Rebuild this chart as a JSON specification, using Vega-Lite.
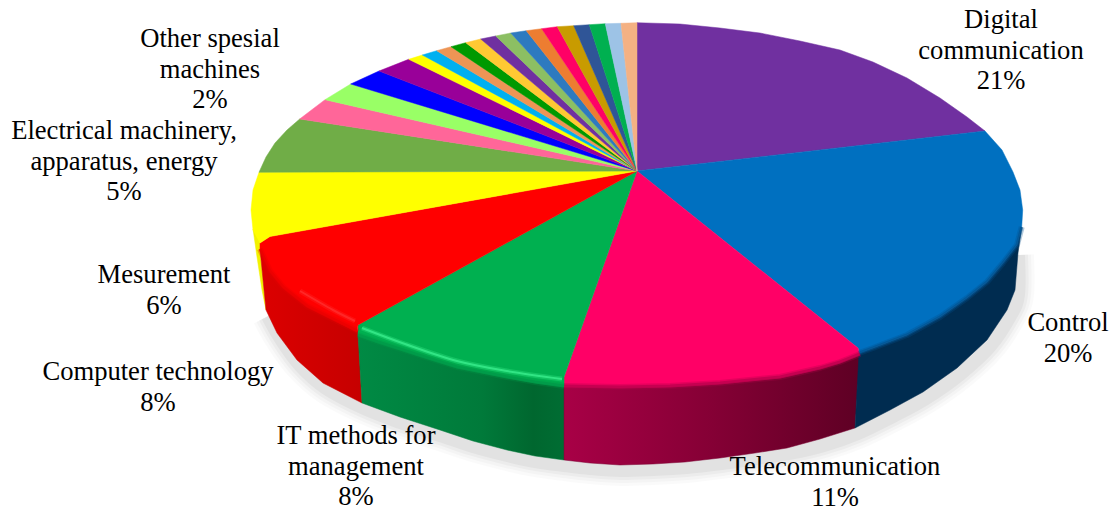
{
"$schema":"https://vega.github.io/schema/vega-lite/v6.json",
"width":1114,"height":510,"padding":0,
"autosize":{"type":"fit","contains":"padding"},
"background":"white",
"view":{"stroke":null},
"resolve":{"scale":{"stroke":"independent","fill":"independent"}},
"datasets":{
"top":[
{"slice":"Digital communication","pt":0,"x":637,"y":171},{"slice":"Digital communication","pt":1,"x":637,"y":22.7},{"slice":"Digital communication","pt":2,"x":680,"y":24},{"slice":"Digital communication","pt":3,"x":720,"y":28},{"slice":"Digital communication","pt":4,"x":760,"y":33},{"slice":"Digital communication","pt":5,"x":800,"y":41},{"slice":"Digital communication","pt":6,"x":840,"y":50},{"slice":"Digital communication","pt":7,"x":873,"y":62},{"slice":"Digital communication","pt":8,"x":907,"y":78},{"slice":"Digital communication","pt":9,"x":940,"y":98},{"slice":"Digital communication","pt":10,"x":967,"y":117},{"slice":"Digital communication","pt":11,"x":985,"y":131},
{"slice":"Control","pt":0,"x":637,"y":171},{"slice":"Control","pt":1,"x":985,"y":131},{"slice":"Control","pt":2,"x":1002,"y":150},{"slice":"Control","pt":3,"x":1013,"y":172},{"slice":"Control","pt":4,"x":1020,"y":190},{"slice":"Control","pt":5,"x":1022.7,"y":210},{"slice":"Control","pt":6,"x":1021.7,"y":227},{"slice":"Control","pt":7,"x":1017,"y":245},{"slice":"Control","pt":8,"x":1003,"y":263},{"slice":"Control","pt":9,"x":987,"y":282},{"slice":"Control","pt":10,"x":967,"y":298},{"slice":"Control","pt":11,"x":940,"y":317},{"slice":"Control","pt":12,"x":907,"y":335},{"slice":"Control","pt":13,"x":873,"y":348},{"slice":"Control","pt":14,"x":860,"y":353},{"slice":"Control","pt":15,"x":858,"y":348},
{"slice":"Telecommunication","pt":0,"x":637,"y":171},{"slice":"Telecommunication","pt":1,"x":858,"y":348},{"slice":"Telecommunication","pt":2,"x":860,"y":355},{"slice":"Telecommunication","pt":3,"x":840,"y":363},{"slice":"Telecommunication","pt":4,"x":820,"y":369},{"slice":"Telecommunication","pt":5,"x":780,"y":378},{"slice":"Telecommunication","pt":6,"x":720,"y":384},{"slice":"Telecommunication","pt":7,"x":670,"y":387},{"slice":"Telecommunication","pt":8,"x":620,"y":388},{"slice":"Telecommunication","pt":9,"x":564,"y":387},{"slice":"Telecommunication","pt":10,"x":564,"y":377},
{"slice":"IT methods for management","pt":0,"x":637,"y":171},{"slice":"IT methods for management","pt":1,"x":564,"y":377},{"slice":"IT methods for management","pt":2,"x":564,"y":387},{"slice":"IT methods for management","pt":3,"x":535,"y":383},{"slice":"IT methods for management","pt":4,"x":507,"y":378},{"slice":"IT methods for management","pt":5,"x":482,"y":373},{"slice":"IT methods for management","pt":6,"x":457,"y":368},{"slice":"IT methods for management","pt":7,"x":428,"y":359},{"slice":"IT methods for management","pt":8,"x":400,"y":350},{"slice":"IT methods for management","pt":9,"x":378,"y":343},{"slice":"IT methods for management","pt":10,"x":358,"y":336},{"slice":"IT methods for management","pt":11,"x":358,"y":325},
{"slice":"Computer technology","pt":0,"x":637,"y":171},{"slice":"Computer technology","pt":1,"x":358,"y":325},{"slice":"Computer technology","pt":2,"x":357,"y":332},{"slice":"Computer technology","pt":3,"x":333,"y":320},{"slice":"Computer technology","pt":4,"x":307,"y":307},{"slice":"Computer technology","pt":5,"x":283,"y":288},{"slice":"Computer technology","pt":6,"x":270,"y":272},{"slice":"Computer technology","pt":7,"x":260,"y":250},{"slice":"Computer technology","pt":8,"x":260,"y":243},{"slice":"Computer technology","pt":9,"x":270,"y":236.5},
{"slice":"Mesurement","pt":0,"x":637,"y":171},{"slice":"Mesurement","pt":1,"x":270,"y":236.5},{"slice":"Mesurement","pt":2,"x":260,"y":243},{"slice":"Mesurement","pt":3,"x":253,"y":230},{"slice":"Mesurement","pt":4,"x":251,"y":210},{"slice":"Mesurement","pt":5,"x":253,"y":190},{"slice":"Mesurement","pt":6,"x":259,"y":172.3},
{"slice":"Electrical machinery, apparatus, energy","pt":0,"x":637,"y":171},{"slice":"Electrical machinery, apparatus, energy","pt":1,"x":259,"y":172.3},{"slice":"Electrical machinery, apparatus, energy","pt":2,"x":266,"y":157},{"slice":"Electrical machinery, apparatus, energy","pt":3,"x":275,"y":143},{"slice":"Electrical machinery, apparatus, energy","pt":4,"x":287,"y":130},{"slice":"Electrical machinery, apparatus, energy","pt":5,"x":299.7,"y":119},
{"slice":"Other spesial machines","pt":0,"x":637,"y":171},{"slice":"Other spesial machines","pt":1,"x":299.7,"y":119},{"slice":"Other spesial machines","pt":2,"x":325,"y":99.7},
{"slice":"Field 09","pt":0,"x":637,"y":171},{"slice":"Field 09","pt":1,"x":325,"y":99.7},{"slice":"Field 09","pt":2,"x":350.7,"y":84},
{"slice":"Field 10","pt":0,"x":637,"y":171},{"slice":"Field 10","pt":1,"x":350.7,"y":84},{"slice":"Field 10","pt":2,"x":379,"y":71},
{"slice":"Field 11","pt":0,"x":637,"y":171},{"slice":"Field 11","pt":1,"x":379,"y":71},{"slice":"Field 11","pt":2,"x":408.7,"y":59.3},
{"slice":"Field 12","pt":0,"x":637,"y":171},{"slice":"Field 12","pt":1,"x":408.7,"y":59.3},{"slice":"Field 12","pt":2,"x":422.3,"y":55},
{"slice":"Field 13","pt":0,"x":637,"y":171},{"slice":"Field 13","pt":1,"x":422.3,"y":55},{"slice":"Field 13","pt":2,"x":436.7,"y":50.7},
{"slice":"Field 14","pt":0,"x":637,"y":171},{"slice":"Field 14","pt":1,"x":436.7,"y":50.7},{"slice":"Field 14","pt":2,"x":451,"y":46.7},
{"slice":"Field 15","pt":0,"x":637,"y":171},{"slice":"Field 15","pt":1,"x":451,"y":46.7},{"slice":"Field 15","pt":2,"x":465.7,"y":42.7},
{"slice":"Field 16","pt":0,"x":637,"y":171},{"slice":"Field 16","pt":1,"x":465.7,"y":42.7},{"slice":"Field 16","pt":2,"x":480.7,"y":39},
{"slice":"Field 17","pt":0,"x":637,"y":171},{"slice":"Field 17","pt":1,"x":480.7,"y":39},{"slice":"Field 17","pt":2,"x":495.7,"y":36},
{"slice":"Field 18","pt":0,"x":637,"y":171},{"slice":"Field 18","pt":1,"x":495.7,"y":36},{"slice":"Field 18","pt":2,"x":510.7,"y":33},
{"slice":"Field 19","pt":0,"x":637,"y":171},{"slice":"Field 19","pt":1,"x":510.7,"y":33},{"slice":"Field 19","pt":2,"x":526.3,"y":30.7},
{"slice":"Field 20","pt":0,"x":637,"y":171},{"slice":"Field 20","pt":1,"x":526.3,"y":30.7},{"slice":"Field 20","pt":2,"x":541.7,"y":28.7},
{"slice":"Field 21","pt":0,"x":637,"y":171},{"slice":"Field 21","pt":1,"x":541.7,"y":28.7},{"slice":"Field 21","pt":2,"x":557.3,"y":26.7},
{"slice":"Field 22","pt":0,"x":637,"y":171},{"slice":"Field 22","pt":1,"x":557.3,"y":26.7},{"slice":"Field 22","pt":2,"x":573.7,"y":25.7},
{"slice":"Field 23","pt":0,"x":637,"y":171},{"slice":"Field 23","pt":1,"x":573.7,"y":25.7},{"slice":"Field 23","pt":2,"x":589.3,"y":24.7},
{"slice":"Field 24","pt":0,"x":637,"y":171},{"slice":"Field 24","pt":1,"x":589.3,"y":24.7},{"slice":"Field 24","pt":2,"x":605.3,"y":23.7},
{"slice":"Field 25","pt":0,"x":637,"y":171},{"slice":"Field 25","pt":1,"x":605.3,"y":23.7},{"slice":"Field 25","pt":2,"x":621,"y":23.3},
{"slice":"Field 26","pt":0,"x":637,"y":171},{"slice":"Field 26","pt":1,"x":621,"y":23.3},{"slice":"Field 26","pt":2,"x":637,"y":22.7}
],
"wall":[
{"slice":"Control","pt":0,"x":859,"y":353},{"slice":"Control","pt":1,"x":873,"y":348},{"slice":"Control","pt":2,"x":907,"y":335},{"slice":"Control","pt":3,"x":940,"y":317},{"slice":"Control","pt":4,"x":967,"y":298},{"slice":"Control","pt":5,"x":987,"y":282},{"slice":"Control","pt":6,"x":1003,"y":263},{"slice":"Control","pt":7,"x":1017,"y":245},{"slice":"Control","pt":8,"x":1021.7,"y":227},{"slice":"Control","pt":9,"x":1018,"y":253},{"slice":"Control","pt":10,"x":1015,"y":290},{"slice":"Control","pt":11,"x":1007,"y":310},{"slice":"Control","pt":12,"x":987,"y":340},{"slice":"Control","pt":13,"x":957,"y":368},{"slice":"Control","pt":14,"x":923,"y":392},{"slice":"Control","pt":15,"x":890,"y":410},{"slice":"Control","pt":16,"x":855,"y":428},
{"slice":"Telecommunication","pt":0,"x":564,"y":386},{"slice":"Telecommunication","pt":1,"x":620,"y":387},{"slice":"Telecommunication","pt":2,"x":670,"y":386},{"slice":"Telecommunication","pt":3,"x":720,"y":383},{"slice":"Telecommunication","pt":4,"x":780,"y":377},{"slice":"Telecommunication","pt":5,"x":820,"y":368},{"slice":"Telecommunication","pt":6,"x":840,"y":362},{"slice":"Telecommunication","pt":7,"x":860,"y":354},{"slice":"Telecommunication","pt":8,"x":855,"y":428},{"slice":"Telecommunication","pt":9,"x":820,"y":439},{"slice":"Telecommunication","pt":10,"x":787,"y":448},{"slice":"Telecommunication","pt":11,"x":755,"y":453},{"slice":"Telecommunication","pt":12,"x":720,"y":458},{"slice":"Telecommunication","pt":13,"x":685,"y":462},{"slice":"Telecommunication","pt":14,"x":653,"y":464},{"slice":"Telecommunication","pt":15,"x":620,"y":465},{"slice":"Telecommunication","pt":16,"x":590,"y":463},{"slice":"Telecommunication","pt":17,"x":564,"y":460},
{"slice":"IT methods for management","pt":0,"x":358,"y":335},{"slice":"IT methods for management","pt":1,"x":378,"y":342},{"slice":"IT methods for management","pt":2,"x":400,"y":349},{"slice":"IT methods for management","pt":3,"x":428,"y":358},{"slice":"IT methods for management","pt":4,"x":457,"y":367},{"slice":"IT methods for management","pt":5,"x":482,"y":372},{"slice":"IT methods for management","pt":6,"x":507,"y":377},{"slice":"IT methods for management","pt":7,"x":535,"y":382},{"slice":"IT methods for management","pt":8,"x":564,"y":386},{"slice":"IT methods for management","pt":9,"x":564,"y":460},{"slice":"IT methods for management","pt":10,"x":535,"y":456},{"slice":"IT methods for management","pt":11,"x":507,"y":450},{"slice":"IT methods for management","pt":12,"x":473,"y":441},{"slice":"IT methods for management","pt":13,"x":440,"y":430},{"slice":"IT methods for management","pt":14,"x":400,"y":417},{"slice":"IT methods for management","pt":15,"x":362,"y":403},
{"slice":"Computer technology","pt":0,"x":260,"y":249},{"slice":"Computer technology","pt":1,"x":270,"y":271},{"slice":"Computer technology","pt":2,"x":283,"y":287},{"slice":"Computer technology","pt":3,"x":307,"y":306},{"slice":"Computer technology","pt":4,"x":333,"y":319},{"slice":"Computer technology","pt":5,"x":358,"y":331},{"slice":"Computer technology","pt":6,"x":362,"y":403},{"slice":"Computer technology","pt":7,"x":323,"y":383},{"slice":"Computer technology","pt":8,"x":297,"y":360},{"slice":"Computer technology","pt":9,"x":277,"y":333},{"slice":"Computer technology","pt":10,"x":266,"y":310},
{"slice":"Mesurement","pt":0,"x":253,"y":229},{"slice":"Mesurement","pt":1,"x":260,"y":242},{"slice":"Mesurement","pt":2,"x":260,"y":250},{"slice":"Mesurement","pt":3,"x":266,"y":310},{"slice":"Mesurement","pt":4,"x":262,"y":290},{"slice":"Mesurement","pt":5,"x":257,"y":257}
],
"shadow":[
{"pt":0,"x":1018,"y":255},{"pt":1,"x":1018,"y":295},{"pt":2,"x":1010,"y":316},{"pt":3,"x":990,"y":346},{"pt":4,"x":960,"y":374},{"pt":5,"x":926,"y":398},{"pt":6,"x":893,"y":416},{"pt":7,"x":858,"y":433},{"pt":8,"x":824,"y":445},{"pt":9,"x":790,"y":453},{"pt":10,"x":757,"y":458},{"pt":11,"x":722,"y":463},{"pt":12,"x":687,"y":467},{"pt":13,"x":654,"y":469},{"pt":14,"x":620,"y":470},{"pt":15,"x":590,"y":468},{"pt":16,"x":564,"y":465},{"pt":17,"x":535,"y":461},{"pt":18,"x":507,"y":455},{"pt":19,"x":473,"y":446},{"pt":20,"x":440,"y":435},{"pt":21,"x":400,"y":422},{"pt":22,"x":364,"y":408},{"pt":23,"x":326,"y":388},{"pt":24,"x":300,"y":365},{"pt":25,"x":281,"y":339},{"pt":26,"x":268,"y":316}
],
"rim":[
{"slice":"Control","pt":0,"x":859,"y":353},{"slice":"Control","pt":1,"x":873,"y":348},{"slice":"Control","pt":2,"x":907,"y":335},{"slice":"Control","pt":3,"x":940,"y":317},{"slice":"Control","pt":4,"x":967,"y":298},{"slice":"Control","pt":5,"x":987,"y":282},{"slice":"Control","pt":6,"x":1003,"y":263},{"slice":"Control","pt":7,"x":1017,"y":245},{"slice":"Control","pt":8,"x":1021.7,"y":227},
{"slice":"Telecommunication","pt":0,"x":564,"y":386},{"slice":"Telecommunication","pt":1,"x":620,"y":387},{"slice":"Telecommunication","pt":2,"x":670,"y":386},{"slice":"Telecommunication","pt":3,"x":720,"y":383},{"slice":"Telecommunication","pt":4,"x":780,"y":377},{"slice":"Telecommunication","pt":5,"x":820,"y":368},{"slice":"Telecommunication","pt":6,"x":840,"y":362},{"slice":"Telecommunication","pt":7,"x":860,"y":354},
{"slice":"IT methods for management","pt":0,"x":358,"y":335},{"slice":"IT methods for management","pt":1,"x":378,"y":342},{"slice":"IT methods for management","pt":2,"x":400,"y":349},{"slice":"IT methods for management","pt":3,"x":428,"y":358},{"slice":"IT methods for management","pt":4,"x":457,"y":367},{"slice":"IT methods for management","pt":5,"x":482,"y":372},{"slice":"IT methods for management","pt":6,"x":507,"y":377},{"slice":"IT methods for management","pt":7,"x":535,"y":382},{"slice":"IT methods for management","pt":8,"x":564,"y":386},
{"slice":"Computer technology","pt":0,"x":260,"y":249},{"slice":"Computer technology","pt":1,"x":270,"y":271},{"slice":"Computer technology","pt":2,"x":283,"y":287},{"slice":"Computer technology","pt":3,"x":307,"y":306},{"slice":"Computer technology","pt":4,"x":333,"y":319},{"slice":"Computer technology","pt":5,"x":358,"y":331}
],
"glint":[
{"slice":"IT methods for management","pt":0,"x":362,"y":328},{"slice":"IT methods for management","pt":1,"x":405,"y":344},{"slice":"IT methods for management","pt":2,"x":457,"y":361},{"slice":"IT methods for management","pt":3,"x":507,"y":371},{"slice":"IT methods for management","pt":4,"x":562,"y":379},
{"slice":"Computer technology","pt":0,"x":300,"y":291},{"slice":"Computer technology","pt":1,"x":333,"y":310},{"slice":"Computer technology","pt":2,"x":355,"y":321}
],
"labels":[
{"label":"Digital\ncommunication\n21%","x":1001,"y":20,"share":21},
{"label":"Control\n20%","x":1068,"y":323,"share":20},
{"label":"Telecommunication\n11%","x":835,"y":467,"share":11},
{"label":"IT methods for\nmanagement\n8%","x":356,"y":436,"share":8},
{"label":"Computer technology\n8%","x":158,"y":372,"share":8},
{"label":"Mesurement\n6%","x":164,"y":275,"share":6},
{"label":"Electrical machinery,\napparatus, energy\n5%","x":124,"y":131,"share":5},
{"label":"Other spesial\nmachines\n2%","x":210,"y":39,"share":2}
]
},
"encoding":{
"x":{"field":"x","type":"quantitative","axis":null,"scale":{"domain":[0,1114],"range":[0,1114]}},
"y":{"field":"y","type":"quantitative","axis":null,"scale":{"domain":[0,510],"range":[0,510]}},
"order":{"field":"pt","type":"quantitative"}
},
"layer":[
{"data":{"name":"shadow"},"mark":{"type":"line","interpolate":"cardinal","stroke":"#000000","opacity":0.02,"strokeWidth":32},"encoding":{}},
{"data":{"name":"shadow"},"mark":{"type":"line","interpolate":"cardinal","stroke":"#000000","opacity":0.025,"strokeWidth":26},"encoding":{}},
{"data":{"name":"shadow"},"mark":{"type":"line","interpolate":"cardinal","stroke":"#000000","opacity":0.03,"strokeWidth":20},"encoding":{}},
{"data":{"name":"shadow"},"mark":{"type":"line","interpolate":"cardinal","stroke":"#000000","opacity":0.04,"strokeWidth":14},"encoding":{}},
{"data":{"name":"wall"},"transform":[{"filter":"datum.slice==='Mesurement'"}],"mark":{"type":"line","interpolate":"linear-closed","fill":"#f2f200","stroke":"#f2f200","strokeWidth":0.5},"encoding":{}},
{"data":{"name":"wall"},"transform":[{"filter":"datum.slice==='Computer technology'"}],"mark":{"type":"line","interpolate":"linear-closed","stroke":"#cc0000","strokeWidth":0.5,"fill":{"gradient":"linear","x1":0,"y1":0,"x2":1,"y2":0,"stops":[{"offset":0,"color":"#dc0000"},{"offset":1,"color":"#c60000"}]}},"encoding":{}},
{"data":{"name":"wall"},"transform":[{"filter":"datum.slice==='IT methods for management'"}],"mark":{"type":"line","interpolate":"linear-closed","stroke":"#007a3a","strokeWidth":0.5,"fill":{"gradient":"linear","x1":0,"y1":0,"x2":1,"y2":0,"stops":[{"offset":0,"color":"#008a44"},{"offset":0.6,"color":"#007a3a"},{"offset":0.85,"color":"#00672f"},{"offset":1,"color":"#006d33"}]}},"encoding":{}},
{"data":{"name":"wall"},"transform":[{"filter":"datum.slice==='Telecommunication'"}],"mark":{"type":"line","interpolate":"linear-closed","stroke":"#7a0030","strokeWidth":0.5,"fill":{"gradient":"linear","x1":0,"y1":0,"x2":1,"y2":0,"stops":[{"offset":0,"color":"#a80046"},{"offset":0.5,"color":"#850035"},{"offset":1,"color":"#5e0024"}]}},"encoding":{}},
{"data":{"name":"wall"},"transform":[{"filter":"datum.slice==='Control'"}],"mark":{"type":"line","interpolate":"linear-closed","fill":"#002c50","stroke":"#002c50","strokeWidth":0.5},"encoding":{}},
{"data":{"name":"top"},"mark":{"type":"line","interpolate":"linear-closed","strokeWidth":0.5,"filled":true},
"encoding":{
"detail":{"field":"slice"},
"fill":{"field":"slice","legend":null,"scale":{"domain":["Digital communication","Control","Telecommunication","IT methods for management","Computer technology","Mesurement","Electrical machinery, apparatus, energy","Other spesial machines","Field 09","Field 10","Field 11","Field 12","Field 13","Field 14","Field 15","Field 16","Field 17","Field 18","Field 19","Field 20","Field 21","Field 22","Field 23","Field 24","Field 25","Field 26"],"range":["#7030A0","#0070C0","#FF0066","#00B050","#FF0000","#FFFF00","#70AD47","#FF6699","#99FF66","#0000FF","#990099","#FFFF00","#00B0F0","#ED9555","#009900","#FFC933","#7030A0","#8CBF63","#2E7ABF","#ED7D31","#FF0066","#C89B00","#2F5597","#00B050","#9DC3E6","#F4B183"]}},
"stroke":{"field":"slice","legend":null,"scale":{"domain":["Digital communication","Control","Telecommunication","IT methods for management","Computer technology","Mesurement","Electrical machinery, apparatus, energy","Other spesial machines","Field 09","Field 10","Field 11","Field 12","Field 13","Field 14","Field 15","Field 16","Field 17","Field 18","Field 19","Field 20","Field 21","Field 22","Field 23","Field 24","Field 25","Field 26"],"range":["#7030A0","#0070C0","#FF0066","#00B050","#FF0000","#FFFF00","#70AD47","#FF6699","#99FF66","#0000FF","#990099","#FFFF00","#00B0F0","#ED9555","#009900","#FFC933","#7030A0","#8CBF63","#2E7ABF","#ED7D31","#FF0066","#C89B00","#2F5597","#00B050","#9DC3E6","#F4B183"]}}
}},
{"data":{"name":"rim"},"mark":{"type":"line","strokeWidth":6,"opacity":0.3,"strokeJoin":"round"},
"encoding":{
"detail":{"field":"slice"},
"stroke":{"field":"slice","legend":null,"scale":{"domain":["Control","Telecommunication","IT methods for management","Computer technology"],"range":["#03508c","#b0004a","#009447","#e60000"]}}
}},
{"data":{"name":"rim"},"mark":{"type":"line","strokeWidth":3,"opacity":0.6,"strokeJoin":"round"},
"encoding":{
"detail":{"field":"slice"},
"stroke":{"field":"slice","legend":null,"scale":{"domain":["Control","Telecommunication","IT methods for management","Computer technology"],"range":["#03508c","#b0004a","#009447","#e60000"]}}
}},
{"data":{"name":"glint"},"mark":{"type":"line","interpolate":"cardinal","strokeWidth":5,"opacity":0.3},
"encoding":{"detail":{"field":"slice"},"stroke":{"field":"slice","legend":null,"scale":{"domain":["IT methods for management","Computer technology"],"range":["#3cf090","#ff3030"]}}}},
{"data":{"name":"glint"},"mark":{"type":"line","interpolate":"cardinal","strokeWidth":2,"opacity":0.75},
"encoding":{"detail":{"field":"slice"},"stroke":{"field":"slice","legend":null,"scale":{"domain":["IT methods for management","Computer technology"],"range":["#3cf090","#ff3030"]}}}},
{"data":{"name":"labels"},"mark":{"type":"text","font":"Liberation Serif","fontSize":26.6,"lineHeight":30.5,"lineBreak":"\n","align":"center","baseline":"middle","color":"#000000"},
"encoding":{"text":{"field":"label"},"order":null}}
]
}
